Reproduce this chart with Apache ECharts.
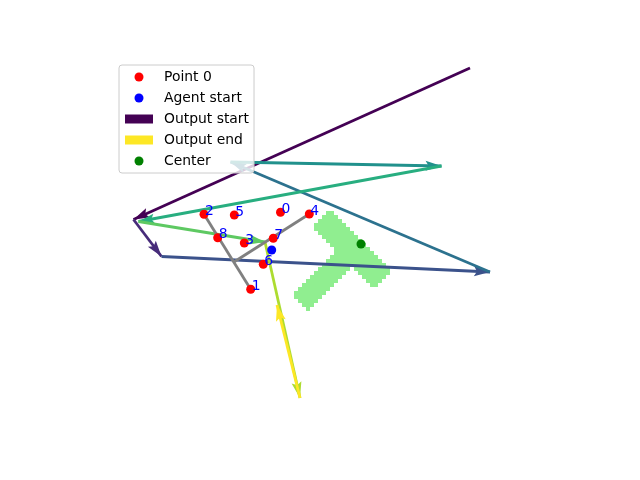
<!DOCTYPE html>
<html>
<head>
<meta charset="utf-8">
<script src="https://cdn.jsdelivr.net/npm/echarts@6/dist/echarts.min.js"></script>
<style>
  html, body { margin: 0; padding: 0; background: #fff; }
  #chart { width: 640px; height: 480px; }
</style>
</head>
<body>
<div id="chart"></div>
<script>
// coordinates are in plot units, y grows downward (axis is inverted)
const pointIds = ['0', '1', '2', '3', '4', '5', '6', '7', '8'];
const pointX = [280.5, 250.7, 204, 244.3, 309.3, 234.3, 263.3, 273.3, 217.7];
const pointY = [212.3, 289.3, 214.3, 243, 214, 215, 264.3, 238.3, 237.8];

const agentStart = [271.7, 250];
const centerPoint = [361, 244];

// path of the output, one arrow between each pair of consecutive nodes
const pathX = [470, 133.5, 161.5, 490, 230.5, 441.5, 138.5, 265, 300, 277];
const pathY = [68, 219.5, 256.5, 272, 162, 166, 221.5, 242, 398, 305];
const arrowColors = ['#440154', '#472c7a', '#3b528b', '#2c728e', '#21918c',
  '#28ae80', '#5ec962', '#addc30', '#fde725'];

// gray connector segments [x0, y0, x1, y1]
const graySegs = [
  [204, 214.3, 250.7, 289.3],
  [309.3, 214, 234.3, 261.7]
];

// light green mask, one run of cells per row: [rowTop, xStart, xEnd]
const maskRuns = [
  [211, 326, 334], [215, 322, 338], [219, 318, 342], [223, 314, 346],
  [227, 314, 350], [231, 318, 354], [235, 322, 358], [239, 326, 362],
  [243, 330, 366], [247, 334, 370], [251, 334, 374], [255, 330, 378],
  [259, 326, 382], [263, 322, 386],
  [267, 318, 350], [267, 354, 390],
  [271, 314, 346], [271, 358, 390],
  [275, 310, 342], [275, 362, 386],
  [279, 306, 338], [279, 366, 382],
  [283, 302, 334], [283, 370, 378],
  [287, 298, 330], [291, 294, 326], [295, 294, 322],
  [299, 298, 318], [303, 302, 314], [307, 306, 310]
];
const cellH = 4;

const font = 'DejaVu Sans';
const chart = echarts.init(document.getElementById('chart'));

const arrowData = arrowColors.map((c, i) => ({
  coords: [[pathX[i], pathY[i]], [pathX[i + 1], pathY[i + 1]]],
  lineStyle: { color: c }
}));

const option = {
  animation: false,
  backgroundColor: '#fff',
  grid: { left: 0, right: 0, top: 0, bottom: 0 },
  xAxis: { type: 'value', min: 0, max: 640, show: false },
  yAxis: { type: 'value', min: 0, max: 480, inverse: true, show: false },
  legend: {
    orient: 'vertical',
    left: 119,
    top: 65,
    padding: [4, 5, 4, 6],
    itemGap: 5,
    itemWidth: 28,
    itemHeight: 9,
    selectedMode: false,
    backgroundColor: 'rgba(255,255,255,0.8)',
    borderColor: '#cccccc',
    borderWidth: 1,
    borderRadius: 3,
    textStyle: { fontFamily: font, fontSize: 13.9, color: '#000', lineHeight: 16, padding: [0, 0, 0, 6] },
    data: [
      { name: 'Point 0', icon: 'circle' },
      { name: 'Agent start', icon: 'circle' },
      { name: 'Output start', icon: 'rect' },
      { name: 'Output end', icon: 'rect' },
      { name: 'Center', icon: 'circle' }
    ]
  },
  series: [
    {
      type: 'custom',
      z: 1,
      silent: true,
      data: maskRuns,
      encode: { x: [1, 2], y: 0 },
      renderItem: function (params, api) {
        const p0 = api.coord([api.value(1), api.value(0)]);
        const p1 = api.coord([api.value(2), api.value(0) + cellH]);
        return {
          type: 'rect',
          shape: { x: p0[0], y: p0[1], width: p1[0] - p0[0], height: p1[1] - p0[1] },
          style: { fill: '#90ee90' }
        };
      }
    },
    {
      type: 'lines',
      coordinateSystem: 'cartesian2d',
      z: 2,
      symbol: ['none', 'path://M0,-16 M0,0 L5,16 L0,13 L-5,16 Z'],
      symbolSize: [[10, 32], [10, 32]],
      lineStyle: { width: 2.8, opacity: 1 },
      data: arrowData
    },
    {
      type: 'lines',
      coordinateSystem: 'cartesian2d',
      z: 3,
      symbol: ['none', 'none'],
      lineStyle: { width: 2.8, opacity: 1, color: '#808080' },
      data: graySegs.map(s => ({ coords: [[s[0], s[1]], [s[2], s[3]]] }))
    },
    {
      name: 'Point 0',
      type: 'scatter',
      z: 4,
      symbolSize: 9,
      itemStyle: { color: '#ff0000', opacity: 1 },
      data: pointX.map((x, i) => [x, pointY[i], pointIds[i]]),
      label: {
        show: true,
        formatter: p => p.value[2],
        position: [5.5, 1.5],
        align: 'left',
        verticalAlign: 'middle',
        color: '#0000ff',
        fontFamily: font,
        fontSize: 13.9
      }
    },
    {
      name: 'Agent start',
      type: 'scatter',
      z: 4,
      symbolSize: 9,
      itemStyle: { color: '#0000ff', opacity: 1 },
      data: [agentStart]
    },
    {
      name: 'Center',
      type: 'scatter',
      z: 4,
      symbolSize: 9,
      itemStyle: { color: '#008000', opacity: 1 },
      data: [centerPoint]
    },
    { name: 'Output start', type: 'scatter', itemStyle: { color: '#440154', opacity: 1 }, data: [] },
    { name: 'Output end', type: 'scatter', itemStyle: { color: '#fde725', opacity: 1 }, data: [] }
  ]
};

chart.setOption(option);
</script>
</body>
</html>
